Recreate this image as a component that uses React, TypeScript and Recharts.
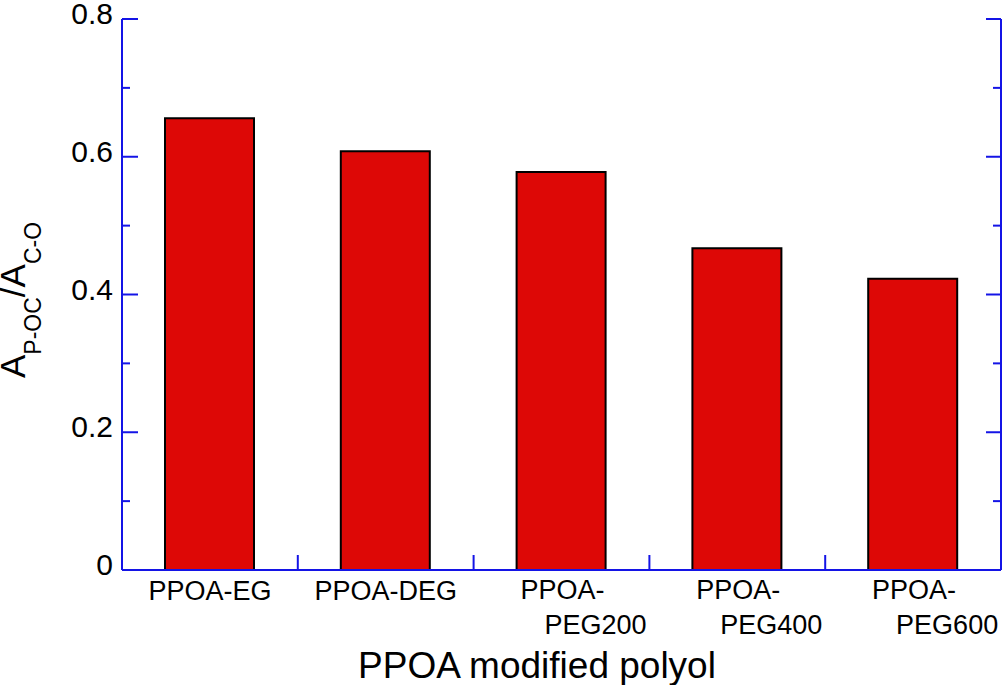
import React from "react";
import { BarChart, Bar, XAxis, YAxis } from "recharts";

const categories = ["PPOA-EG", "PPOA-DEG", "PPOA-PEG200", "PPOA-PEG400", "PPOA-PEG600"];
const tickLine1 = ["PPOA-EG", "PPOA-DEG", "PPOA-", "PPOA-", "PPOA-"];
const tickLine2 = ["", "", "PEG200", "PEG400", "PEG600"];
const ratioValues = [0.656, 0.608, 0.578, 0.467, 0.423];
const yTicks = [0, 0.1, 0.2, 0.3, 0.4, 0.5, 0.6, 0.7, 0.8];
const yTickLabels = ["0", "", "0.2", "", "0.4", "", "0.6", "", "0.8"];

const data = categories.map((c, i) => ({ name: c, value: ratioValues[i], i }));

const W = 1004;
const H = 685;
const LEFT = 122;
const RIGHT_W = 3;
const TOP = 19;
const XAXIS_H = 115;
const BAND = (W - LEFT - RIGHT_W) / categories.length;
const BLUE = "#1414e6";
const FONT = "'Liberation Sans', Arial, sans-serif";

const LeftTick = (props: any) => {
  const { x, y, index } = props;
  const label = yTickLabels[index];
  const major = label !== "";
  return (
    <g>
      <line x1={x} x2={x + (major ? 16 : 8)} y1={y} y2={y} stroke={BLUE} strokeWidth={2} />
      {major && (
        <text x={x - 9} y={y + 5} textAnchor="end" fontSize={30} fontFamily={FONT} fill="#000">
          {label}
        </text>
      )}
    </g>
  );
};

const RightTick = (props: any) => {
  const { x, y, index } = props;
  const major = yTickLabels[index] !== "";
  return <line x1={x - (major ? 15 : 8)} x2={x} y1={y} y2={y} stroke={BLUE} strokeWidth={2} />;
};

const BottomTick = (props: any) => {
  const { x, y, index } = props;
  const two = tickLine2[index] !== "";
  return (
    <g>
      {index < categories.length - 1 && (
        <line x1={x + BAND / 2} x2={x + BAND / 2} y1={y} y2={y - 15} stroke={BLUE} strokeWidth={2} />
      )}
      {two ? (
        <text fontSize={27} fontFamily={FONT} fill="#000">
          <tspan x={x - 41} y={y + 29}>{tickLine1[index]}</tspan>
          <tspan x={x - 17} y={y + 64}>{tickLine2[index]}</tspan>
        </text>
      ) : (
        <text x={x} y={y + 30} textAnchor="middle" fontSize={27} fontFamily={FONT} fill="#000">
          {tickLine1[index]}
        </text>
      )}
    </g>
  );
};

const TopTick = (props: any) => {
  const { x, y, index } = props;
  if (index >= categories.length - 1) return <g />;
  return <line x1={x + BAND / 2} x2={x + BAND / 2} y1={y} y2={y + 16} stroke={BLUE} strokeWidth={2} />;
};

const BarShape = (props: any) => {
  const { x, y, width, height } = props;
  return (
    <g>
      <rect x={x} y={y} width={width} height={height} fill="#dd0806" />
      <path
        d={`M${x},${y + height} V${y} H${x + width} V${y + height}`}
        stroke="#000"
        strokeWidth={2}
        fill="none"
      />
    </g>
  );
};

const YLabel = () => (
  <text transform="rotate(-90)" x={-300} y={25} textAnchor="middle" fontFamily={FONT} fill="#000">
    <tspan fontSize={35}>A</tspan>
    <tspan fontSize={23} dy={16}>P-OC</tspan>
    <tspan fontSize={35} dy={-16}>/A</tspan>
    <tspan fontSize={23} dy={16}>C-O</tspan>
  </text>
);

export default function App() {
  return (
    <div style={{ position: "absolute", left: 0, top: 0, width: W, height: H, background: "#fff" }}>
      <BarChart
        width={W}
        height={H}
        data={data}
        margin={{ top: TOP, right: 0, left: 0, bottom: 0 }}
      >
        <XAxis
          dataKey="name"
          height={XAXIS_H}
          axisLine={{ stroke: BLUE, strokeWidth: 2 }}
          tickLine={false}
          tickSize={0}
          tickMargin={0}
          tick={<BottomTick />}
          interval={0}
        />
        <XAxis
          xAxisId="top"
          dataKey="name"
          orientation="top"
          height={0}
          axisLine={{ stroke: BLUE, strokeWidth: 2 }}
          tickLine={false}
          tickSize={0}
          tickMargin={0}
          tick={<TopTick />}
          interval={0}
        />
        <YAxis
          width={LEFT}
          domain={[0, 0.8]}
          ticks={yTicks}
          interval={0}
          axisLine={{ stroke: BLUE, strokeWidth: 2 }}
          tickLine={false}
          tickSize={0}
          tickMargin={0}
          tick={<LeftTick />}
          allowDataOverflow
        />
        <YAxis
          yAxisId="r"
          orientation="right"
          width={RIGHT_W}
          domain={[0, 0.8]}
          ticks={yTicks}
          interval={0}
          axisLine={{ stroke: BLUE, strokeWidth: 2 }}
          tickLine={false}
          tickSize={0}
          tickMargin={0}
          tick={<RightTick />}
          allowDataOverflow
        />
        <Bar dataKey="value" barSize={89} shape={<BarShape />} isAnimationActive={false} />
        <text x={537} y={678} textAnchor="middle" fontSize={37} fontFamily={FONT} fill="#000">
          PPOA modified polyol
        </text>
        <YLabel />
      </BarChart>
    </div>
  );
}
